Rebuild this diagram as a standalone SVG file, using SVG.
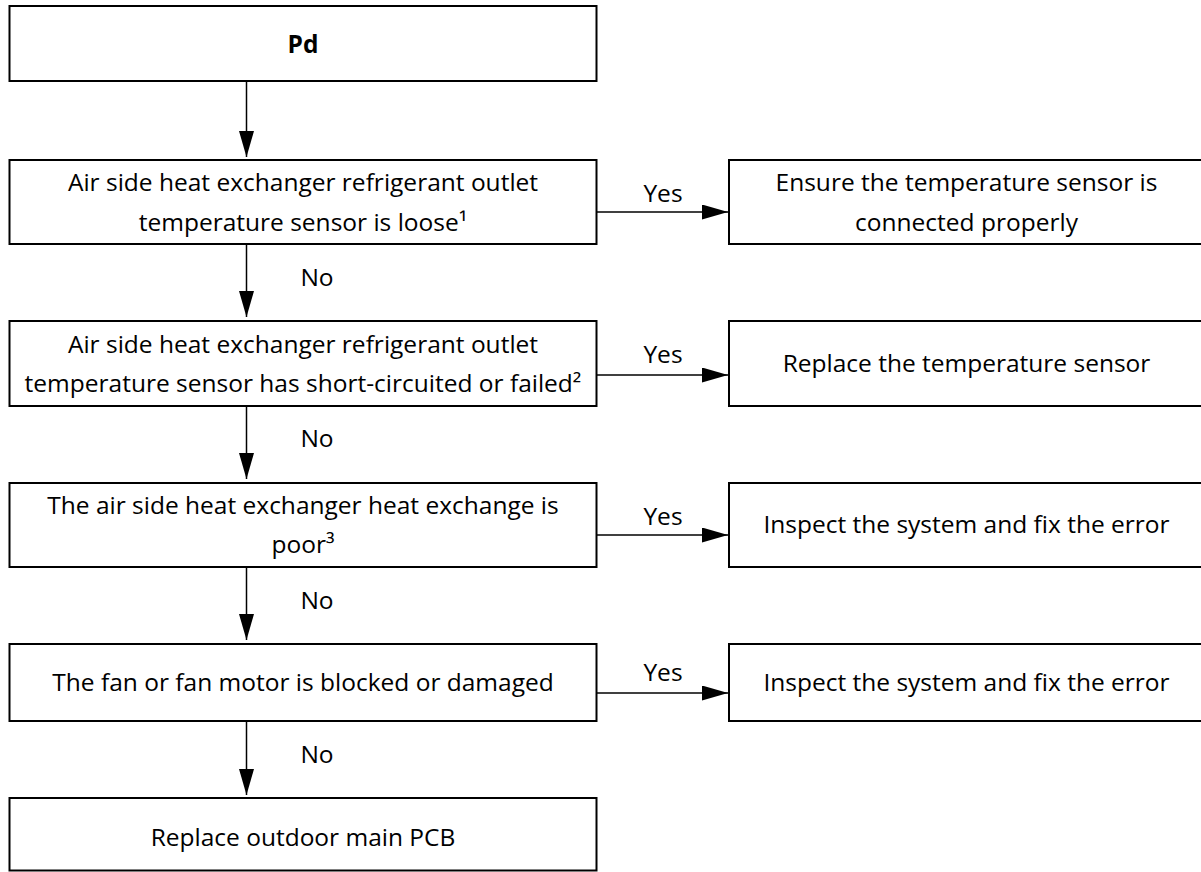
<svg xmlns="http://www.w3.org/2000/svg" width="1201" height="872" viewBox="0 0 1201 872">
  <style>
    .box { fill: #ffffff; stroke: #000000; stroke-width: 2; }
    .txt { font-family: "Open Sans", "Liberation Sans", sans-serif; font-size: 24.5px; fill: #000000; text-anchor: middle; }
    .bold { font-weight: bold; }
    .edge { stroke: #000000; stroke-width: 1.5; fill: none; marker-end: url(#arrow); }
  </style>
  <defs>
    <marker id="arrow" markerUnits="userSpaceOnUse" markerWidth="26" markerHeight="15" refX="26" refY="7.5" orient="auto">
      <path d="M0,0 L26,7.5 L0,15 Z" fill="#000000"/>
    </marker>
  </defs>

  <rect width="1201" height="872" fill="#ffffff"/>

  <!-- connectors -->
  <g id="connectors">
    <line class="edge" x1="246.5" y1="82" x2="246.5" y2="157"/>
    <line class="edge" x1="246.5" y1="245" x2="246.5" y2="317"/>
    <line class="edge" x1="246.5" y1="407" x2="246.5" y2="479"/>
    <line class="edge" x1="246.5" y1="568" x2="246.5" y2="640"/>
    <line class="edge" x1="246.5" y1="722" x2="246.5" y2="795"/>

    <line class="edge" x1="597" y1="212" x2="728" y2="212"/>
    <line class="edge" x1="597" y1="375" x2="728" y2="375"/>
    <line class="edge" x1="597" y1="535" x2="728" y2="535"/>
    <line class="edge" x1="597" y1="693" x2="728" y2="693"/>

    <text class="txt" x="317" y="286">No</text>
    <text class="txt" x="317" y="447">No</text>
    <text class="txt" x="317" y="609">No</text>
    <text class="txt" x="317" y="763">No</text>

    <text class="txt" x="663" y="202">Yes</text>
    <text class="txt" x="663" y="363">Yes</text>
    <text class="txt" x="663" y="525">Yes</text>
    <text class="txt" x="663" y="681">Yes</text>
  </g>

  <!-- main column -->
  <g id="start">
    <rect class="box" x="9.5" y="6" width="587" height="75"/>
    <text class="txt bold" x="303" y="53">Pd</text>
  </g>

  <g id="check-loose">
    <rect class="box" x="9.5" y="160" width="587" height="84"/>
    <text class="txt" x="303" y="191">Air side heat exchanger refrigerant outlet</text>
    <text class="txt" x="303" y="231">temperature sensor is loose¹</text>
  </g>

  <g id="check-failed">
    <rect class="box" x="9.5" y="321" width="587" height="85"/>
    <text class="txt" x="303" y="353">Air side heat exchanger refrigerant outlet</text>
    <text class="txt" x="303" y="392">temperature sensor has short-circuited or failed²</text>
  </g>

  <g id="check-exchange">
    <rect class="box" x="9.5" y="483" width="587" height="84"/>
    <text class="txt" x="303" y="514">The air side heat exchanger heat exchange is</text>
    <text class="txt" x="303" y="553">poor³</text>
  </g>

  <g id="check-fan">
    <rect class="box" x="9.5" y="644" width="587" height="77"/>
    <text class="txt" x="303" y="691">The fan or fan motor is blocked or damaged</text>
  </g>

  <g id="replace-pcb">
    <rect class="box" x="9.5" y="798" width="587" height="72.5"/>
    <text class="txt" x="303" y="846">Replace outdoor main PCB</text>
  </g>

  <!-- action column -->
  <g id="fix-connection">
    <rect class="box" x="729" y="160" width="475" height="84"/>
    <text class="txt" x="966.5" y="191">Ensure the temperature sensor is</text>
    <text class="txt" x="966.5" y="231">connected properly</text>
  </g>

  <g id="replace-sensor">
    <rect class="box" x="729" y="321" width="475" height="85"/>
    <text class="txt" x="966.5" y="372">Replace the temperature sensor</text>
  </g>

  <g id="inspect-exchange">
    <rect class="box" x="729" y="483" width="475" height="84"/>
    <text class="txt" x="966.5" y="533">Inspect the system and fix the error</text>
  </g>

  <g id="inspect-fan">
    <rect class="box" x="729" y="644" width="475" height="77"/>
    <text class="txt" x="966.5" y="691">Inspect the system and fix the error</text>
  </g>
</svg>
